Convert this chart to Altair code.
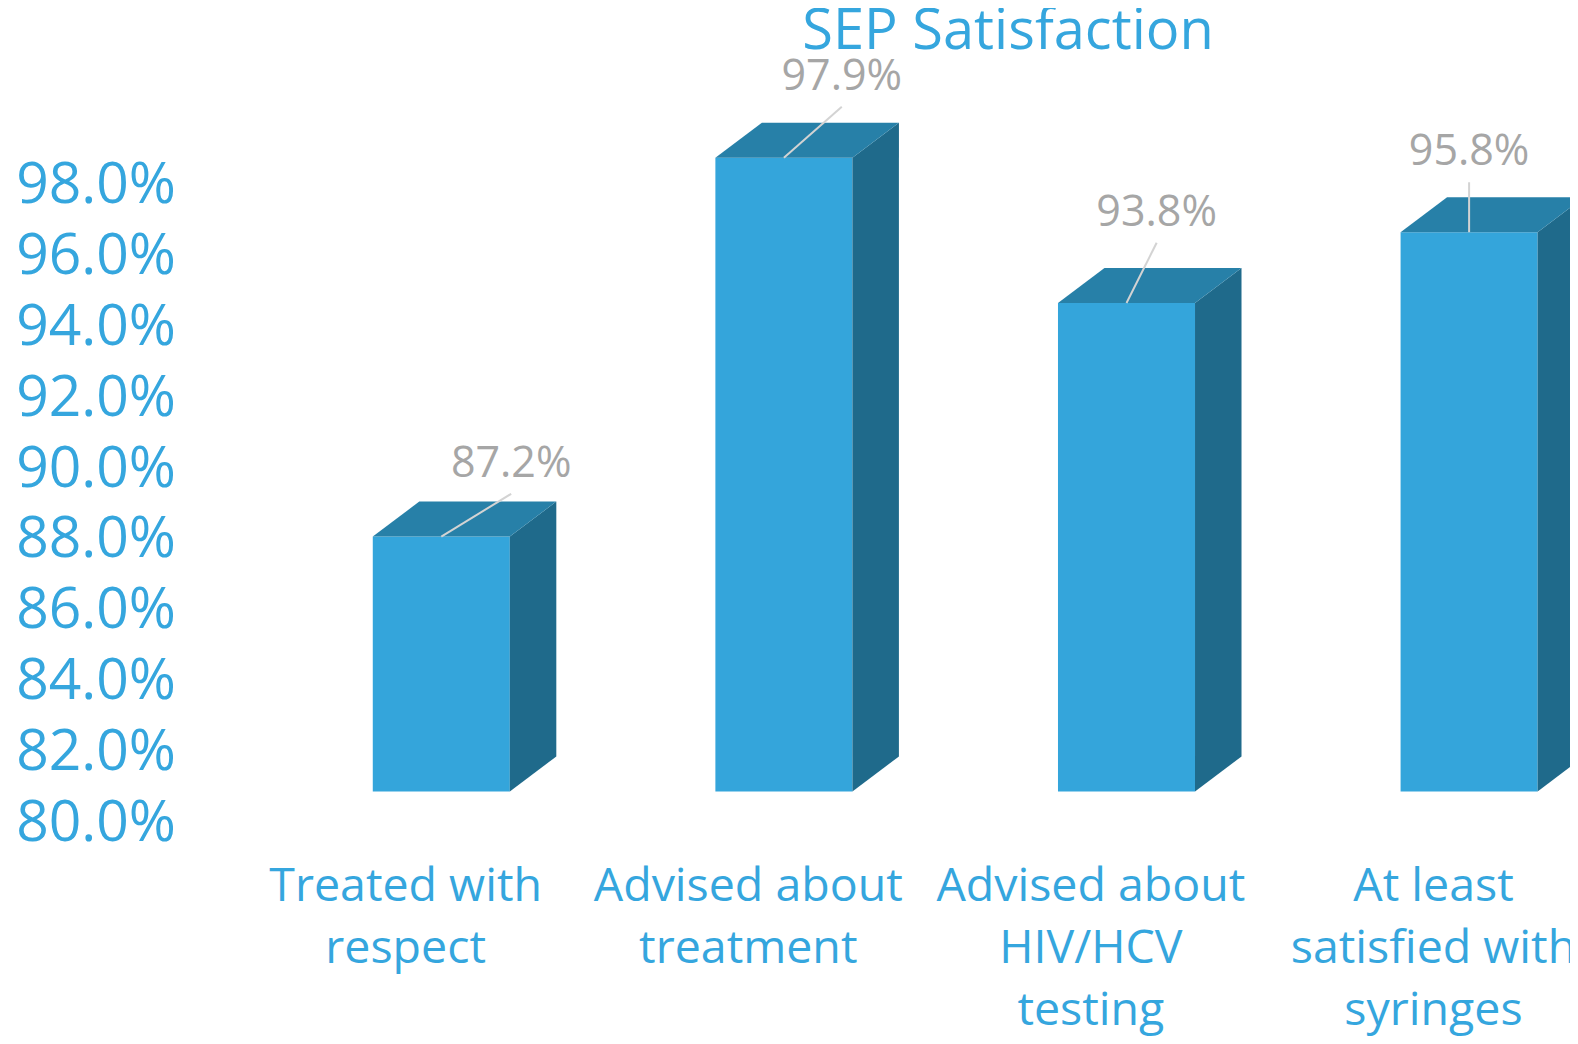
import altair as alt
import pandas as pd

# ---------------- data ----------------
categories = [
    "Treated with\nrespect",
    "Advised about\ntreatment",
    "Advised about\nHIV/HCV\ntesting",
    "At least\nsatisfied with\nsyringes",
]
values = [0.872, 0.979, 0.938, 0.958]
value_labels = ["87.2%", "97.9%", "93.8%", "95.8%"]
y_ticks = [0.80, 0.82, 0.84, 0.86, 0.88, 0.90, 0.92, 0.94, 0.96, 0.98]

# leader-line end offsets for the value labels (data units)
label_dx = [0.204, 0.169, 0.088, 0.0]
label_dy = [0.0121, 0.0144, 0.0170, 0.0141]

# ---------------- geometry / style ----------------
BASE = 0.80
HALF = 0.2          # half width of the front face (category units)
DEPTH_X = 0.1357    # 3D depth, horizontal (category units)
DEPTH_Y = 0.0099    # 3D depth, vertical (value units)
XMIN, XMAX = -0.7335, 3.2945
CAT_SHIFT = -0.104
CAT_Y = 0.76907

BLUE = "#35A6DE"
FRONT = "#34A5DB"
TOP = "#2780A8"
SIDE = "#1F6A8B"
GREY = "#A6A6A6"
FONT = "Open Sans"

pos = list(range(len(values)))

bars = pd.DataFrame({
    "cat": categories,
    "pos": pos,
    "value": values,
    "label": value_labels,
})
bars["xl"] = bars["pos"] - HALF
bars["xr"] = bars["pos"] + HALF
bars["base"] = BASE
bars["lx"] = bars["pos"] + pd.Series(label_dx)
bars["ly"] = bars["value"] + pd.Series(label_dy)
bars["cx"] = bars["pos"] + CAT_SHIFT
bars["cy"] = CAT_Y

side_rows, top_rows = [], []
for i, v in zip(pos, values):
    side_rows.append({"bar": i, "x": i + HALF, "top": v, "bot": BASE})
    side_rows.append({"bar": i, "x": i + HALF + DEPTH_X, "top": v + DEPTH_Y, "bot": BASE + DEPTH_Y})
    top_rows.append({"bar": i, "y": v, "xa": i - HALF, "xb": i + HALF})
    top_rows.append({"bar": i, "y": v + DEPTH_Y, "xa": i - HALF + DEPTH_X, "xb": i + HALF + DEPTH_X})
side = pd.DataFrame(side_rows)
topf = pd.DataFrame(top_rows)
ticks_df = pd.DataFrame({"tick": y_ticks, "x": XMIN})

xs = alt.Scale(domain=[XMIN, XMAX], nice=False, zero=False)
ys = alt.Scale(domain=[0.80, 1.00], nice=False, zero=False)

front = alt.Chart(bars).mark_rect(color=FRONT).encode(
    x=alt.X("xl:Q", scale=xs, axis=None),
    x2="xr:Q",
    y=alt.Y("value:Q", scale=ys, axis=None),
    y2="base:Q",
)

side_face = alt.Chart(side).mark_area(color=SIDE, orient="vertical").encode(
    x=alt.X("x:Q", scale=xs, axis=None),
    y=alt.Y("top:Q", scale=ys, axis=None),
    y2="bot:Q",
    detail="bar:N",
)

top_face = alt.Chart(topf).mark_area(color=TOP, orient="horizontal").encode(
    y=alt.Y("y:Q", scale=ys, axis=None),
    x=alt.X("xa:Q", scale=xs, axis=None),
    x2="xb:Q",
    detail="bar:N",
)

leaders = alt.Chart(bars).mark_rule(color="#D3D3D3", strokeWidth=2).encode(
    x=alt.X("pos:Q", scale=xs, axis=None),
    y=alt.Y("value:Q", scale=ys, axis=None),
    x2="lx:Q",
    y2="ly:Q",
)

vlabels = alt.Chart(bars).mark_text(
    font=FONT, fontSize=43, color=GREY, align="center", baseline="alphabetic", dy=-17
).encode(
    x=alt.X("lx:Q", scale=xs, axis=None),
    y=alt.Y("ly:Q", scale=ys, axis=None),
    text="label:N",
)

catlabels = alt.Chart(bars).mark_text(
    font=FONT, fontSize=46.5, color=BLUE, align="center", baseline="alphabetic",
    lineBreak="\n", lineHeight=62
).encode(
    x=alt.X("cx:Q", scale=xs, axis=None),
    y=alt.Y("cy:Q", scale=ys, axis=None),
    text="cat:N",
)

ylabels = alt.Chart(ticks_df).mark_text(
    font=FONT, fontSize=57, color=BLUE, align="right", baseline="middle", dx=-14, dy=32
).encode(
    x=alt.X("x:Q", scale=xs, axis=None),
    y=alt.Y("tick:Q", scale=ys, axis=None),
    text=alt.Text("tick:Q", format=".1%"),
)

chart = alt.layer(
    front, side_face, top_face, leaders, vlabels, catlabels, ylabels
).properties(
    width=1380,
    height=708,
    padding={"left": 182, "top": 75.5, "right": 0, "bottom": 244.5},
    autosize=alt.AutoSizeParams(type="none"),
    title=alt.TitleParams(
        "SEP Satisfaction", fontSize=56, font=FONT, color=BLUE, fontWeight="normal",
        anchor="middle", dx=128, dy=5, frame="group", offset=0
    ),
).configure_view(stroke=None)

chart.save("out.html", embed_options={"renderer": "svg", "actions": False})
